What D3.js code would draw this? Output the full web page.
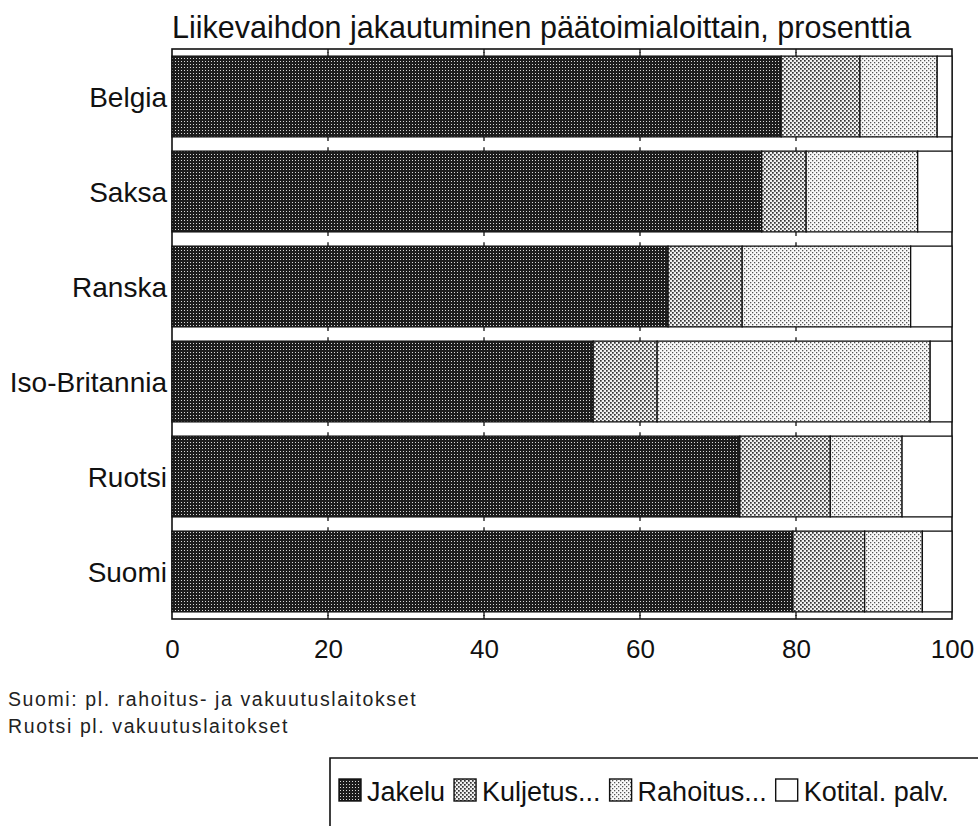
<!DOCTYPE html>
<html lang="fi">
  <head>
    <meta charset="UTF-8" />
    <title>Liikevaihdon jakautuminen</title>
    <script src="https://d3js.org/d3.v7.min.js"></script>
    <style>
      body {
        margin: 0;
        background: #fff;
        font-family: "Liberation Sans", Arial, sans-serif;
      }
      .lbl {
        font-size: 28px;
        fill: #111;
      }
      .tick text {
        font-size: 26px;
        fill: #111;
      }
      .note {
        font-size: 19.5px;
        letter-spacing: 1.6px;
        fill: #222;
      }
    </style>
  </head>
  <body>
    <svg id="chart" width="978" height="826"></svg>
    <script>
      // data (percent of turnover)
      let countries = ["Belgia", "Saksa", "Ranska", "Iso-Britannia", "Ruotsi", "Suomi"];
      let series = ["Jakelu", "Kuljetus...", "Rahoitus...", "Kotital. palv."];
      let jakelu = [78.1, 75.6, 63.6, 54.0, 72.8, 79.6];
      let kuljetus = [10.1, 5.7, 9.5, 8.2, 11.6, 9.2];
      let rahoitus = [9.9, 14.3, 21.6, 35.0, 9.2, 7.4];
      let kotital = [1.9, 4.4, 5.3, 2.8, 6.4, 3.8];
      let xTicks = [0, 20, 40, 60, 80, 100];
      let notes = ["Suomi: pl. rahoitus- ja vakuutuslaitokset", "Ruotsi pl. vakuutuslaitokset"];

      let svg = d3.select("#chart");
      let defs = svg.append("defs");

      // halftone fills like the printed original
      function dotPattern(id, size, bg, fg, dots) {
        let p = defs
          .append("pattern")
          .attr("id", id)
          .attr("patternUnits", "userSpaceOnUse")
          .attr("width", size)
          .attr("height", size);
        p.append("rect").attr("width", size).attr("height", size).attr("fill", bg);
        dots.forEach(function (d) {
          p.append("rect")
            .attr("x", d[0])
            .attr("y", d[1])
            .attr("width", d[2])
            .attr("height", d[2])
            .attr("fill", fg);
        });
      }
      dotPattern("p0", 3, "#1c1c1c", "#d8d8d8", [[1, 1, 1]]);
      dotPattern("p1", 4, "#f0f0f0", "#333", [[0, 0, 1.7], [2, 2, 1.7]]);
      dotPattern("p2", 4, "#fafafa", "#555", [[0, 0, 1.3], [2, 2, 1.3]]);
      let fills = ["url(#p0)", "url(#p1)", "url(#p2)", "#fff"];

      let plotL = 172, plotR = 952, plotT = 49, plotB = 619;

      let x = d3.scaleLinear().domain([0, 100]).range([plotL, plotR]);
      let y = d3
        .scaleBand()
        .domain(countries)
        .range([plotT, plotB])
        .paddingInner(0.15)
        .paddingOuter(0.075);

      let table = countries.map(function (c, i) {
        return {
          country: c,
          "Jakelu": jakelu[i],
          "Kuljetus...": kuljetus[i],
          "Rahoitus...": rahoitus[i],
          "Kotital. palv.": kotital[i],
        };
      });
      let stacked = d3.stack().keys(series)(table);

      // title
      svg
        .append("text")
        .attr("x", plotL)
        .attr("y", 38)
        .attr("font-size", 30.5)
        .attr("fill", "#111")
        .text("Liikevaihdon jakautuminen päätoimialoittain, prosenttia");

      // frame
      svg
        .append("rect")
        .attr("x", plotL)
        .attr("y", plotT)
        .attr("width", plotR - plotL)
        .attr("height", plotB - plotT)
        .attr("fill", "#fff")
        .attr("stroke", "#111")
        .attr("stroke-width", 1.6);

      // bars
      let groups = svg
        .selectAll("g.series")
        .data(stacked)
        .join("g")
        .attr("class", "series")
        .attr("fill", function (d, i) {
          return fills[i];
        });
      groups
        .selectAll("rect")
        .data(function (d) {
          return d;
        })
        .join("rect")
        .attr("x", function (d) {
          return x(d[0]);
        })
        .attr("y", function (d) {
          return y(d.data.country);
        })
        .attr("width", function (d) {
          return x(d[1]) - x(d[0]);
        })
        .attr("height", y.bandwidth())
        .attr("stroke", "#111")
        .attr("stroke-width", 1.3);

      // small tick marks on the frame and at the bar edges in each gap
      let inner = xTicks.slice(1, -1);
      let tickRows = [[plotT, 1], [plotB, -1]];
      countries.forEach(function (c) {
        tickRows.push([y(c), -1]);
        tickRows.push([y(c) + y.bandwidth(), 1]);
      });
      tickRows.forEach(function (r) {
        svg
          .append("g")
          .selectAll("line")
          .data(inner)
          .join("line")
          .attr("x1", function (d) {
            return x(d);
          })
          .attr("x2", function (d) {
            return x(d);
          })
          .attr("y1", r[0])
          .attr("y2", r[0] + r[1] * 4)
          .attr("stroke", "#111")
          .attr("stroke-width", 1.3);
      });

      // x axis labels
      let axis = svg
        .append("g")
        .attr("transform", "translate(0," + plotB + ")")
        .call(d3.axisBottom(x).tickValues(xTicks).tickSize(0).tickPadding(21));
      axis.select(".domain").remove();
      axis.attr("font-family", null).attr("font-size", null);

      // category labels
      svg
        .append("g")
        .selectAll("text")
        .data(countries)
        .join("text")
        .attr("class", "lbl")
        .attr("x", plotL - 5)
        .attr("y", function (d) {
          return y(d) + y.bandwidth() / 2;
        })
        .attr("dy", "0.36em")
        .attr("text-anchor", "end")
        .text(function (d) {
          return d;
        });

      // footnotes
      svg
        .append("g")
        .selectAll("text")
        .data(notes)
        .join("text")
        .attr("class", "note")
        .attr("x", 8)
        .attr("y", function (d, i) {
          return 706 + i * 27;
        })
        .text(function (d) {
          return d;
        });

      // legend
      let lg = svg.append("g");
      lg.append("path")
        .attr("d", "M330,826 V758 H978")
        .attr("fill", "none")
        .attr("stroke", "#111")
        .attr("stroke-width", 1.6);
      let lx = 339;
      series.forEach(function (s, i) {
        lg.append("rect")
          .attr("x", lx)
          .attr("y", 779)
          .attr("width", 22)
          .attr("height", 22)
          .attr("fill", fills[i])
          .attr("stroke", "#111")
          .attr("stroke-width", 1.4);
        let t = lg
          .append("text")
          .attr("x", lx + 28)
          .attr("y", 801)
          .attr("font-size", 27)
          .attr("fill", "#111")
          .text(s);
        lx += 28 + t.node().getComputedTextLength() + 9;
      });
    </script>
  </body>
</html>
